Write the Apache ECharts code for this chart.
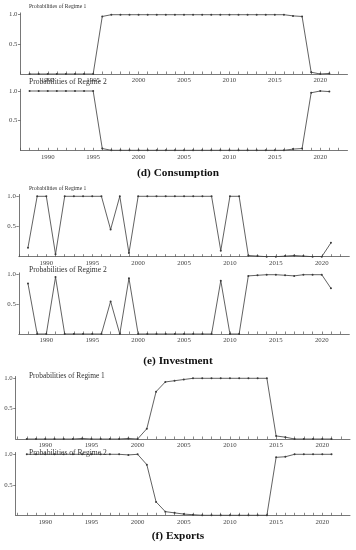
<!DOCTYPE html>
<html>
<head>
<meta charset="utf-8">
<script src="https://cdn.jsdelivr.net/npm/echarts@6/dist/echarts.min.js"></script>
<style>
  html, body { margin: 0; padding: 0; background: #fff; }
  #chart { width: 356px; height: 550px; }
</style>
</head>
<body>
<div id="chart"></div>
<script>
// years 1988..2021
var years = [];
for (var y = 1988; y <= 2021; y++) years.push(y);

var majorYears = [1990, 1995, 2000, 2005, 2010, 2015, 2020];
var yTicks = [0.5, 1.0];

// (d) Consumption
var consR1 = [0, 0, 0, 0, 0, 0, 0, 0, 0.97, 1, 1, 1, 1, 1, 1, 1, 1, 1, 1, 1, 1, 1, 1, 1, 1, 1, 1, 1, 1, 0.98, 0.97, 0.03, 0.0, 0.01];
var consR2 = [1, 1, 1, 1, 1, 1, 1, 1, 0.03, 0, 0, 0, 0, 0, 0, 0, 0, 0, 0, 0, 0, 0, 0, 0, 0, 0, 0, 0, 0, 0.02, 0.03, 0.97, 1.0, 0.99];
// (e) Investment
var invR1 = [0.15, 1, 1, 0.04, 1, 1, 1, 1, 1, 0.45, 1, 0.06, 1, 1, 1, 1, 1, 1, 1, 1, 1, 0.1, 1, 1, 0.02, 0.01, 0, 0, 0.01, 0.02, 0.01, 0, 0, 0.23];
var invR2 = [0.85, 0, 0, 0.96, 0, 0, 0, 0, 0, 0.55, 0, 0.94, 0, 0, 0, 0, 0, 0, 0, 0, 0, 0.9, 0, 0, 0.98, 0.99, 1, 1, 0.99, 0.98, 1, 1, 1, 0.77];
// (f) Exports
var expR1 = [0, 0, 0, 0, 0, 0, 0.01, 0, 0, 0, 0, 0.01, 0, 0.17, 0.78, 0.94, 0.96, 0.98, 1, 1, 1, 1, 1, 1, 1, 1, 1, 0.05, 0.03, 0, 0, 0, 0, 0];
var expR2 = [1, 1, 1, 1, 1, 1, 1, 1, 1, 1, 1, 0.99, 1, 0.83, 0.22, 0.06, 0.04, 0.02, 0.01, 0, 0, 0, 0, 0, 0, 0, 0, 0.95, 0.96, 1, 1, 1, 1, 1];

var panels = [
  { name: 'Probabilities of Regime 1', data: consR1, left: 20.5, width: 327, base: 74, scale: 59.3, xmin: 1987, xmax: 2023, tsize: 5.6 },
  { name: 'Probabilities of Regime 2', data: consR2, left: 20.5, width: 327, base: 150.3, scale: 59.3, xmin: 1987, xmax: 2023, tsize: 7.6 },
  { name: 'Probabilities of Regime 1', data: invR1, left: 18.8, width: 330.5, base: 256.7, scale: 60.4, xmin: 1987, xmax: 2023, tsize: 5.6 },
  { name: 'Probabilities of Regime 2', data: invR2, left: 18.8, width: 330.5, base: 334, scale: 59.3, xmin: 1987, xmax: 2023, tsize: 7.6 },
  { name: 'Probabilities of Regime 1', data: expR1, left: 15.7, width: 334.3, base: 439, scale: 60.7, xmin: 1986.8, xmax: 2023, tsize: 7.4 },
  { name: 'Probabilities of Regime 2', data: expR2, left: 15.7, width: 334.3, base: 515.3, scale: 61, xmin: 1986.8, xmax: 2023, tsize: 7.6 }
];
var titleY = [7.3, 83, 189, 270.7, 376.7, 454];
var captions = [['(d) Consumption', 174.3], ['(e) Investment', 361.7], ['(f) Exports', 536.7]];

var font = '"Liberation Serif", "DejaVu Serif", serif';
var ink = '#3a3a3a';
var YMAX = 1.03;

var grids = [], xAxes = [], yAxes = [], series = [], titles = [];

panels.forEach(function (p, i) {
  var h = YMAX * p.scale;
  grids.push({ left: p.left, width: p.width, top: p.base - h, height: h });
  xAxes.push({
    type: 'value', gridIndex: i, min: p.xmin, max: p.xmax,
    splitLine: { show: false },
    axisLine: { lineStyle: { color: '#555', width: 0.8 } },
    axisTick: { inside: true, length: 2.5, lineStyle: { color: '#555', width: 0.7 }, customValues: years.concat([1987, 2022]) },
    axisLabel: {
      customValues: majorYears, fontFamily: font, fontSize: 6.8, color: '#444', margin: 3,
      formatter: function (v) { return String(v); }
    }
  });
  yAxes.push({
    type: 'value', gridIndex: i, min: 0, max: YMAX,
    splitLine: { show: false },
    axisLine: { show: true, lineStyle: { color: '#555', width: 0.8 } },
    axisTick: { show: true, inside: false, length: 2.5, lineStyle: { color: '#555', width: 0.7 }, customValues: yTicks },
    axisLabel: {
      customValues: yTicks, fontFamily: font, fontSize: 6.8, color: '#444', margin: 3,
      formatter: function (v) { return v.toFixed(1); }
    }
  });
  series.push({
    type: 'line', xAxisIndex: i, yAxisIndex: i,
    data: years.map(function (yr, k) { return [yr, p.data[k]]; }),
    symbol: 'circle', symbolSize: 2, showSymbol: true,
    lineStyle: { color: ink, width: 0.8 },
    itemStyle: { color: ink },
    silent: true, animation: false
  });
  titles.push({
    text: p.name, left: 29, top: titleY[i] - p.tsize * 0.6,
    textStyle: { fontFamily: font, fontSize: p.tsize, fontWeight: 'normal', color: '#333' },
    padding: 0
  });
});

captions.forEach(function (c) {
  titles.push({
    text: c[0], left: 'center', top: c[1] - 6.5,
    textStyle: { fontFamily: font, fontSize: 11.3, fontWeight: 'bold', color: '#111' },
    padding: 0
  });
});

var chart = echarts.init(document.getElementById('chart'), null, { renderer: 'canvas' });
chart.setOption({
  backgroundColor: '#fff',
  animation: false,
  title: titles,
  grid: grids,
  xAxis: xAxes,
  yAxis: yAxes,
  series: series
});
</script>
</body>
</html>
